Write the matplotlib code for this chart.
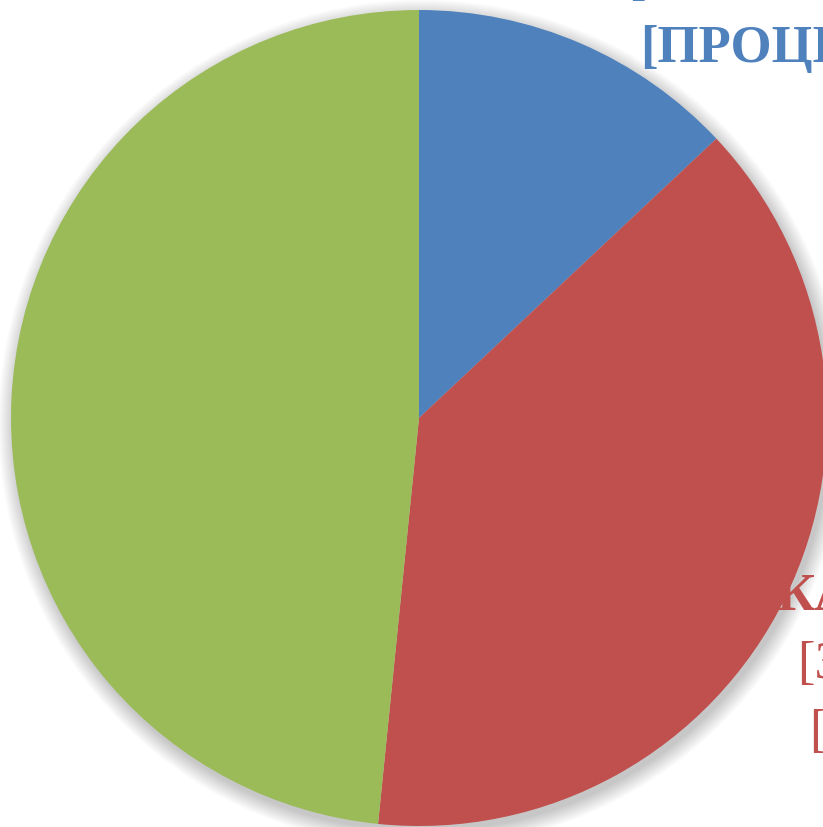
import matplotlib.pyplot as plt
import matplotlib.patches as mpatches

# slice data
categories = ['[ИМЯ КАТЕГОРИИ]', '[ИМЯ КАТЕГОРИИ]', '[ИМЯ КАТЕГОРИИ]']
shares = [13, 38.6, 48.4]
colors = ['#4F81BD', '#C0504D', '#9BBB59']

# data label lines (Excel placeholder text)
blue_label = ['[ИМЯ', 'КАТЕГОРИИ]', '[ЗНАЧЕНИЕ]', '[ПРОЦЕНТ]']
red_label = ['[ИМЯ', 'КАТЕГОРИИ]', '[ЗНАЧЕНИЕ]', '[ПРОЦЕНТ]']

fig = plt.figure(figsize=(8.23, 8.27), dpi=100)
ax = fig.add_axes([0, 0, 1, 1])

# soft shadow behind the pie
for i in range(14):
    ax.add_patch(mpatches.Circle((0.008, -0.014), 1.0 + i * 0.003,
                                 facecolor='black', edgecolor='none',
                                 alpha=0.015, zorder=0))

wedges, _ = ax.pie(shares, colors=colors, startangle=90, counterclock=False,
                   radius=1.0, wedgeprops=dict(linewidth=0, zorder=2))


def draw_label(lines, x, y_first, pitch, color, weights):
    # one text per line so the line pitch is exact
    for k, (line, w) in enumerate(zip(lines, weights)):
        ax.text(x, y_first - k * pitch, line, color=color,
                family=['Liberation Serif', 'DejaVu Serif'], fontsize=38,
                fontweight=w, ha='center', va='baseline', zorder=3)


draw_label(blue_label, 0.912, 1.373, 0.167, colors[0], ['bold'] * 4)
draw_label(red_label, 1.30, -0.304, 0.167, colors[1],
           ['bold', 'bold', 'normal', 'normal'])

ax.set_xlim(-419 / 408, (823 - 419) / 408)
ax.set_ylim((418 - 827) / 408, 418 / 408)
ax.set_aspect('auto')
ax.axis('off')

fig.savefig('out.png', dpi=100)
